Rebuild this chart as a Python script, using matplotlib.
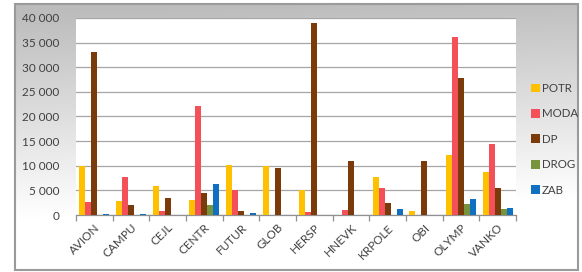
import numpy as np
import matplotlib
matplotlib.use("Agg")
import matplotlib.pyplot as plt
from matplotlib.patches import Rectangle
from matplotlib.ticker import FuncFormatter, FixedLocator

categories = ["AVION", "CAMPU", "CEJL", "CENTR", "FUTUR", "GLOB", "HERSP",
              "HNEVK", "KRPOLE", "OBI", "OLYMP", "VANKO"]
series_names = ["POTR", "MODA", "DP", "DROG", "ZAB"]
potr = [10000, 2800, 5900, 3000, 10100, 10000, 5000, 0, 7800, 800, 12100, 8700]
moda = [2700, 7650, 900, 22100, 5100, 100, 600, 1100, 5400, 0, 36200, 14500]
dp   = [33000, 2000, 3400, 4500, 900, 9500, 39000, 11000, 2400, 11000, 27800, 5500]
drog = [100, 100, 0, 2000, 0, 0, 50, 0, 100, 0, 2200, 1200]
zab  = [300, 300, 0, 6200, 500, 0, 0, 0, 1200, 0, 3200, 1350]
y_ticks = [0, 5000, 10000, 15000, 20000, 25000, 30000, 35000, 40000]

colors = ["#FFC000", "#F4505A", "#7B3A0A", "#77933C", "#0F6FC0"]
font = "Lato"

W, H = 582, 272
fig = plt.figure(figsize=(W / 100, H / 100), dpi=100)
fig.patch.set_facecolor("white")

# background gradient for chart area
bg = fig.add_axes([15 / W, 1 - 270 / H, (578 - 15) / W, (270 - 4) / H], zorder=0)
yy = np.linspace(0, 1, 200)[:, None]
xx = np.linspace(0, 1, 300)[None, :]
t = np.clip(yy * 1.3 - 0.05 + xx * 0.1, 0, 1)
g = 0.74 + 0.26 * t
img = np.dstack([g * np.ones_like(xx)] * 3)
bg.imshow(img, aspect="auto", extent=[0, 1, 0, 1], origin="upper")
bg.set_xlim(0, 1); bg.set_ylim(0, 1)
bg.axis("off")
bg.add_patch(Rectangle((0, 0), 1, 1, transform=bg.transAxes, fill=False,
                       edgecolor="#9a9a9a", linewidth=1.5, clip_on=False))

ax = fig.add_axes([76 / W, 1 - 215 / H, (516 - 76) / W, (215 - 18) / H], zorder=1)
ax.set_facecolor("white")

x = np.arange(len(categories))
bw = 0.165
data = [potr, moda, dp, drog, zab]
for i, (name, vals) in enumerate(zip(series_names, data)):
    ax.bar(x + (i - 2) * bw, vals, width=bw, color=colors[i], label=name, zorder=3)

ax.set_xlim(-0.5, len(categories) - 0.5)
ax.set_ylim(0, 40000)
ax.set_yticks(y_ticks)
ax.yaxis.set_major_formatter(FuncFormatter(lambda v, p: f"{int(v):,}".replace(",", " ")))
ax.grid(axis="y", color="#a6a6a6", linewidth=0.9, zorder=0)
ax.tick_params(axis="y", length=0, pad=12, labelsize=8.5, labelcolor="#404040")
for lab in ax.get_yticklabels():
    lab.set_fontfamily(font)

ax.set_xticks(x)
ax.set_xticklabels(categories, rotation=45, ha="right", rotation_mode="anchor",
                   fontsize=8.5, color="#404040", fontfamily=font)
ax.tick_params(axis="x", length=0, pad=5)
ax.xaxis.set_minor_locator(FixedLocator(np.arange(-0.5, len(categories), 1)))
ax.tick_params(axis="x", which="minor", length=4, color="#909090", width=0.9)

for s in ["top", "right", "left"]:
    ax.spines[s].set_visible(False)
ax.spines["bottom"].set_color("#909090")
ax.spines["bottom"].set_linewidth(0.9)

leg = fig.legend(loc="upper left", bbox_to_anchor=(531 / W, 1 - 83 / H), frameon=False,
                 prop={"family": font, "size": 8.3}, handlelength=0.8, handleheight=0.8,
                 handletextpad=0.15, labelspacing=1.25, labelcolor="#404040",
                 borderpad=0, borderaxespad=0)

fig.savefig("out.png", dpi=100)
